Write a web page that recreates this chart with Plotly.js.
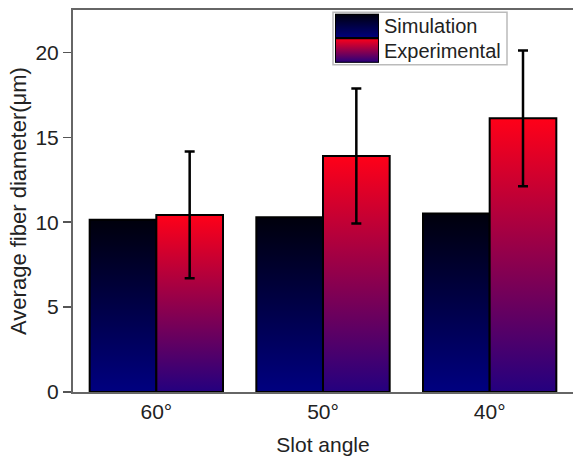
<!DOCTYPE html>
<html>
<head>
<meta charset="utf-8">
<script src="https://cdn.plot.ly/plotly-3.0.1.min.js"></script>
<style>html,body{margin:0;padding:0;background:#fff;}#chart{width:573px;height:456px;}</style>
</head>
<body>
<div id="chart"></div>
<script>
// ---- data ----
const categories = ['60°', '50°', '40°'];
const simulation = [10.15, 10.3, 10.52];
const experimental = [10.43, 13.9, 16.12];
const experimentalErr = [3.73, 3.97, 4.0];
const seriesNames = ['Simulation', 'Experimental'];

// ---- styling ----
const FONT = 'Liberation Sans, Arial, Helvetica, sans-serif';
const simScale = [[0, '#000080'], [1, '#00000c']];
const expScale = [[0, '#24007f'], [1, '#ff0018']];
const barW = 0.4;

const traces = [];
function addBar(center, offset, value, scale, name) {
  const x0 = center + offset - barW / 2, x1 = center + offset + barW / 2;
  traces.push({
    type: 'scatter', mode: 'lines', name: name, showlegend: false,
    x: [x0, x0, x1, x1, x0], y: [0, value, value, 0, 0],
    fill: 'toself',
    fillgradient: {type: 'vertical', start: 0, stop: value, colorscale: scale},
    line: {color: '#000', width: 2},
    hoverinfo: 'skip'
  });
}
categories.forEach((c, i) => {
  addBar(i, -0.2, simulation[i], simScale, seriesNames[0]);
  addBar(i, 0.2, experimental[i], expScale, seriesNames[1]);
});
// error bars on experimental
traces.push({
  type: 'scatter', mode: 'markers', showlegend: false,
  x: categories.map((c, i) => i + 0.2), y: experimental,
  marker: {color: 'rgba(0,0,0,0)', size: 1},
  error_y: {type: 'data', array: experimentalErr, visible: true, color: '#000', thickness: 2.5, width: 5},
  hoverinfo: 'skip'
});
// custom legend swatches (gradient boxes) on a helper subplot
[[simScale, 1], [expScale, 0]].forEach(([scale, y0]) => {
  traces.push({
    type: 'scatter', mode: 'lines', showlegend: false, xaxis: 'x2', yaxis: 'y2',
    x: [0, 0, 1, 1, 0], y: [y0, y0 + 1, y0 + 1, y0, y0],
    fill: 'toself',
    fillgradient: {type: 'vertical', start: y0, stop: y0 + 1, colorscale: scale},
    line: {color: '#000', width: 2}, hoverinfo: 'skip'
  });
});

const layout = {
  width: 573, height: 456,
  margin: {l: 73, r: 0, t: 10, b: 64},
  paper_bgcolor: '#fff', plot_bgcolor: 'rgba(0,0,0,0)',
  font: {family: FONT, color: '#222', size: 21},
  showlegend: false,
  xaxis: {
    range: [-0.5, 2.5], tickvals: categories.map((c, i) => i), ticktext: categories,
    ticks: '', showgrid: false, zeroline: false,
    showline: true, linecolor: '#666', linewidth: 2, mirror: true,
    tickfont: {size: 21, color: '#222'},
    title: {text: 'Slot angle', font: {size: 21, color: '#222'}, standoff: 17}
  },
  yaxis: {
    range: [0, 22.5], tickvals: [0, 5, 10, 15, 20], ticktext: ['0', '5', '10', '15', '20'],
    ticks: 'outside', ticklen: 8, tickwidth: 1.5, tickcolor: '#555',
    showgrid: false, zeroline: false,
    showline: true, linecolor: '#666', linewidth: 2,
    tickfont: {size: 21, color: '#222'},
    title: {text: 'Average fiber diameter(μm)', font: {size: 22, color: '#222'}, standoff: 3}
  },
  xaxis2: {domain: [0.524, 0.612], range: [0, 1], visible: false, anchor: 'y2', fixedrange: true},
  yaxis2: {domain: [0.862, 0.99], range: [0, 2], visible: false, anchor: 'x2', fixedrange: true},
  shapes: [{
    type: 'rect', xref: 'paper', yref: 'paper', x0: 0.52, x1: 0.868, y0: 0.857, y1: 0.994,
    line: {color: '#bbb', width: 1.5}, fillcolor: '#fff', layer: 'below'
  }],
  annotations: seriesNames.map((n, k) => ({
    xref: 'paper', yref: 'paper', x: 0.618, y: k === 0 ? 0.958 : 0.893,
    xanchor: 'left', yanchor: 'middle', showarrow: false, text: n,
    font: {size: 20, color: '#222', family: FONT}
  }))
};

Plotly.newPlot('chart', traces, layout, {staticPlot: true, displayModeBar: false});
</script>
</body>
</html>
